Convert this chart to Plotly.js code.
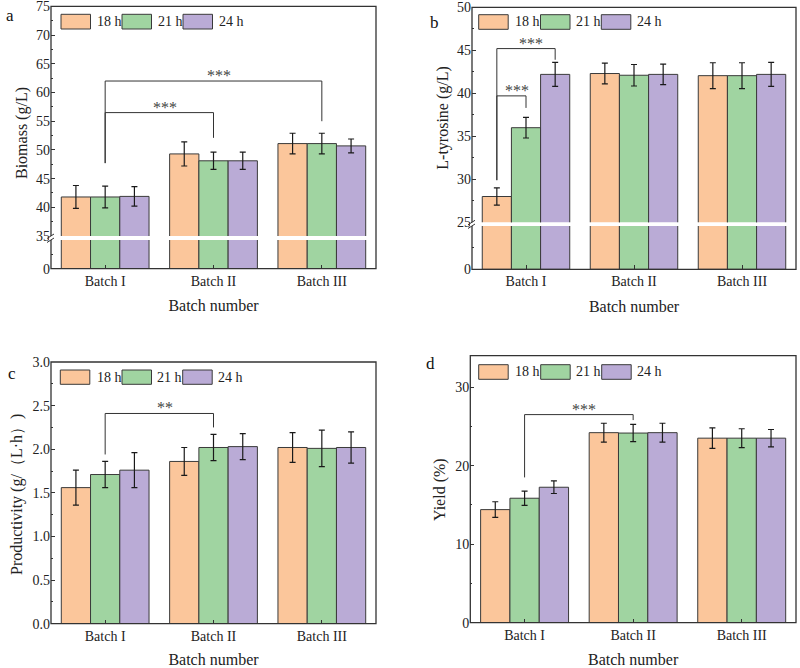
<!DOCTYPE html>
<html><head><meta charset="utf-8">
<script src="https://cdn.plot.ly/plotly-3.0.1.min.js"></script>
<style>html,body{margin:0;padding:0;background:#fff}</style>
</head><body><div id="chart" style="width:800px;height:668px"></div>
<script>
// ---------- data ----------
const categories = ['Batch I', 'Batch II', 'Batch III'];
const seriesNames = ['18 h', '21 h', '24 h'];

const biomass18 = [41.8, 49.3, 51.1];
const biomass21 = [41.8, 48.1, 51.1];
const biomass24 = [41.9, 48.1, 50.7];
const biomassErr18 = [2.0, 2.1, 1.8];
const biomassErr21 = [1.9, 1.5, 1.8];
const biomassErr24 = [1.7, 1.5, 1.2];

const tyrosine18 = [28.0, 42.3, 42.05];
const tyrosine21 = [36.0, 42.1, 42.05];
const tyrosine24 = [42.2, 42.2, 42.2];
const tyrosineErr18 = [1.0, 1.2, 1.5];
const tyrosineErr21 = [1.2, 1.25, 1.5];
const tyrosineErr24 = [1.4, 1.2, 1.4];

const productivity18 = [1.56, 1.86, 2.02];
const productivity21 = [1.71, 2.02, 2.01];
const productivity24 = [1.76, 2.03, 2.02];
const productivityErr18 = [0.20, 0.16, 0.17];
const productivityErr21 = [0.15, 0.15, 0.21];
const productivityErr24 = [0.20, 0.15, 0.18];

const yield18 = [14.4, 24.2, 23.5];
const yield21 = [15.85, 24.15, 23.5];
const yield24 = [17.25, 24.2, 23.5];
const yieldErr18 = [1.0, 1.2, 1.3];
const yieldErr21 = [0.9, 1.1, 1.2];
const yieldErr24 = [0.8, 1.2, 1.1];

// significance brackets: [category, series] endpoints, left foot, top, right foot
const biomassBrackets = [
  {from: [0, 1], to: [2, 1], yFrom: 47.7, yTop: 62.0, yTo: 55.0, label: '***'},
  {from: [0, 1], to: [1, 1], yFrom: 47.7, yTop: 56.5, yTo: 52.1, label: '***'}
];
const tyrosineBrackets = [
  {from: [0, 0], to: [0, 2], yFrom: 29.9, yTop: 45.2, yTo: 43.9, label: '***'},
  {from: [0, 0], to: [0, 1], yFrom: 29.9, yTop: 39.7, yTo: 38.3, label: '***'}
];
const productivityBrackets = [
  {from: [0, 1], to: [1, 1], yFrom: 1.94, yTop: 2.41, yTo: 2.25, label: '**'}
];
const yieldBrackets = [
  {from: [0, 1], to: [1, 1], yFrom: 18.5, yTop: 26.5, yTo: 25.8, label: '***'}
];

// ---------- styling ----------
const W = 800, H = 668;
const px = v => v / W;
const py = v => 1 - v / H;
const colors = ['#FBC69B', '#A0D4A1', '#BAABD6'];
const edge = '#3a3a3a';
const FONT = 'Liberation Serif, Times New Roman, serif';
const BARGAP = 0.19;
const barW = (1 - BARGAP) / 3;
const xIdx = categories.map((c, i) => i);

const traces = [];
function addBars(vals, errs, si, xa, ya, withErr) {
  const t = {
    type: 'bar', x: xIdx, y: vals, name: seriesNames[si],
    xaxis: xa, yaxis: ya, showlegend: false,
    marker: {color: colors[si], line: {color: edge, width: 1}},
    hoverinfo: 'skip'
  };
  if (withErr) t.error_y = {type: 'data', array: errs, visible: true, color: '#1a1a1a', thickness: 1.2, width: 3};
  traces.push(t);
}
function addPanel(series, errs, xa, yaLow, yaUp) {
  series.forEach((s, i) => {
    if (yaLow) addBars(s, errs[i], i, xa, yaLow, false);
    addBars(s, errs[i], i, xa, yaUp, true);
  });
}
addPanel([biomass18, biomass21, biomass24], [biomassErr18, biomassErr21, biomassErr24], 'x', 'y', 'y2');
addPanel([tyrosine18, tyrosine21, tyrosine24], [tyrosineErr18, tyrosineErr21, tyrosineErr24], 'x2', 'y3', 'y4');
addPanel([productivity18, productivity21, productivity24], [productivityErr18, productivityErr21, productivityErr24], 'x3', null, 'y5');
addPanel([yield18, yield21, yield24], [yieldErr18, yieldErr21, yieldErr24], 'x4', null, 'y6');

const annotations = [];
function bx(p) { return p[0] + (p[1] - 1) * barW; }
function addBrackets(list, xa, ya) {
  list.forEach(b => {
    const x1 = bx(b.from), x2 = bx(b.to);
    traces.push({
      type: 'scatter', mode: 'lines', xaxis: xa, yaxis: ya, showlegend: false, hoverinfo: 'skip',
      x: [x1, x1, x2, x2], y: [b.yFrom, b.yTop, b.yTop, b.yTo],
      line: {color: '#333', width: 1}
    });
    annotations.push({
      xref: xa, yref: ya, x: (x1 + x2) / 2 + 0.05, y: b.yTop, text: b.label, showarrow: false,
      yanchor: 'bottom', yshift: -5, font: {family: FONT, size: 16, color: '#444'}
    });
  });
}
addBrackets(biomassBrackets, 'x', 'y2');
addBrackets(tyrosineBrackets, 'x2', 'y4');
addBrackets(productivityBrackets, 'x3', 'y5');
addBrackets(yieldBrackets, 'x4', 'y6');

const tickFont = {family: FONT, size: 14, color: '#222'};
function xAxis(x0, x1, anchor) {
  return {
    domain: [px(x0), px(x1)], anchor: anchor, range: [-0.5, 2.5],
    tickvals: xIdx, ticktext: categories, ticks: 'inside', ticklen: 4, tickcolor: '#333',
    ticklabelstandoff: 2,
    showline: false, showgrid: false, zeroline: false, tickfont: tickFont,
    title: {text: 'Batch number', font: {family: FONT, size: 16, color: '#222'}, standoff: 12},
    fixedrange: true
  };
}
function yAxis(top, bottom, anchor, range, extra) {
  return Object.assign({
    domain: [py(bottom), py(top)], anchor: anchor, range: range,
    ticks: 'inside', ticklen: 4, tickcolor: '#333', showline: false, showgrid: false,
    zeroline: false, tickfont: tickFont, fixedrange: true, ticklabeloverflow: 'allow'
  }, extra);
}
const minor = d => ({ticks: 'inside', ticklen: 2, dtick: d, tickcolor: '#333', showgrid: false});

const P = {
  a: {x0: 51, x1: 376, top: 6.3, bottom: 268.7, bT: 236, bB: 240},
  b: {x0: 472, x1: 796, top: 7.3, bottom: 269.3, bT: 222.3, bB: 226},
  c: {x0: 51, x1: 376, top: 362, bottom: 623.7},
  d: {x0: 470.3, x1: 796, top: 355.7, bottom: 622.7}
};

const layout = {
  width: W, height: H, autosize: false,
  margin: {l: 0, r: 0, t: 0, b: 0},
  paper_bgcolor: '#fff', plot_bgcolor: 'rgba(0,0,0,0)',
  barmode: 'group', bargap: BARGAP, bargroupgap: 0,
  showlegend: false,
  font: {family: FONT, color: '#222'},
  xaxis: xAxis(P.a.x0, P.a.x1, 'y'),
  yaxis: yAxis(P.a.bB, P.a.bottom, 'x', [0, 35], {tickvals: [0], minor: minor(17.5)}),
  yaxis2: yAxis(P.a.top, P.a.bT, 'x', [35, 75.02], {tickvals: [35, 40, 45, 50, 55, 60, 65, 70, 75], minor: minor(2.5)}),
  xaxis2: xAxis(P.b.x0, P.b.x1, 'y3'),
  yaxis3: yAxis(P.b.bB, P.b.bottom, 'x2', [0, 25], {tickvals: [0], minor: minor(12.5)}),
  yaxis4: yAxis(P.b.top, P.b.bT, 'x2', [25, 50], {tick0: 25, dtick: 5, minor: minor(2.5)}),
  xaxis3: xAxis(P.c.x0, P.c.x1, 'y5'),
  yaxis5: yAxis(P.c.top, P.c.bottom, 'x3', [0, 3], {dtick: 0.5, tickformat: '.1f', minor: minor(0.25)}),
  xaxis4: xAxis(P.d.x0, P.d.x1, 'y6'),
  yaxis6: yAxis(P.d.top, P.d.bottom, 'x4', [0, 34], {dtick: 10, minor: minor(5)}),
  shapes: [],
  annotations: annotations
};

// frames
Object.keys(P).forEach(k => {
  const p = P[k];
  layout.shapes.push({type: 'rect', xref: 'paper', yref: 'paper', layer: 'above',
    x0: px(p.x0), x1: px(p.x1), y0: py(p.bottom), y1: py(p.top),
    line: {color: '#333', width: 1.3}, fillcolor: 'rgba(0,0,0,0)'});
  if (p.bT) {
    layout.shapes.push({type: 'rect', xref: 'paper', yref: 'paper', layer: 'above',
      x0: px(p.x0 - 2), x1: px(p.x0 + 2), y0: py(p.bB), y1: py(p.bT),
      line: {width: 0}, fillcolor: '#fff'});
    [p.bT, p.bB].forEach(yy => {
      layout.shapes.push({type: 'line', xref: 'paper', yref: 'paper', layer: 'above',
        x0: px(p.x0 - 4), x1: px(p.x0 + 3), y0: py(yy + 2.5), y1: py(yy - 2),
        line: {color: '#333', width: 1}});
    });
  }
});

// legends
const legends = [
  {boxX: [61, 122, 183], y0: 14.3, y1: 29, textX: [95, 155.5, 217]},
  {boxX: [478.7, 540.5, 601.3], y0: 14.7, y1: 29.3, textX: [513.3, 574.3, 635.3]},
  {boxX: [60.3, 122, 182.7], y0: 370, y1: 384.3, textX: [95, 155, 216]},
  {boxX: [478.7, 540.7, 601.7], y0: 364.7, y1: 379.3, textX: [513.3, 574.3, 635.3]}
];
legends.forEach(L => {
  seriesNames.forEach((n, i) => {
    layout.shapes.push({type: 'rect', xref: 'paper', yref: 'paper', layer: 'above',
      x0: px(L.boxX[i]), x1: px(L.boxX[i] + 29.5), y0: py(L.y1), y1: py(L.y0),
      fillcolor: colors[i], line: {color: edge, width: 1}});
    annotations.push({xref: 'paper', yref: 'paper', x: px(L.textX[i]), y: py((L.y0 + L.y1) / 2),
      xanchor: 'left', yanchor: 'middle', text: n, showarrow: false,
      font: {family: FONT, size: 14, color: '#222'}});
  });
});

// panel letters and y titles
[['a', 10, 16], ['b', 435, 23], ['c', 12, 373], ['d', 430, 363]].forEach(l => {
  annotations.push({xref: 'paper', yref: 'paper', x: px(l[1]), y: py(l[2]), text: l[0],
    showarrow: false, xanchor: 'center', yanchor: 'middle', font: {family: FONT, size: 17, color: '#111'}});
});
[['Biomass (g/L)', 22, 133], ['L-tyrosine (g/L)', 442.7, 118], ['Productivity (g/（L·h）)', 17, 495], ['Yield (%)', 440, 490]].forEach(t => {
  annotations.push({xref: 'paper', yref: 'paper', x: px(t[1]), y: py(t[2]), text: t[0], textangle: -90,
    showarrow: false, xanchor: 'center', yanchor: 'middle', font: {family: FONT, size: 16, color: '#222'}});
});

Plotly.newPlot('chart', traces, layout, {displayModeBar: false, staticPlot: true});
</script>
</body></html>
